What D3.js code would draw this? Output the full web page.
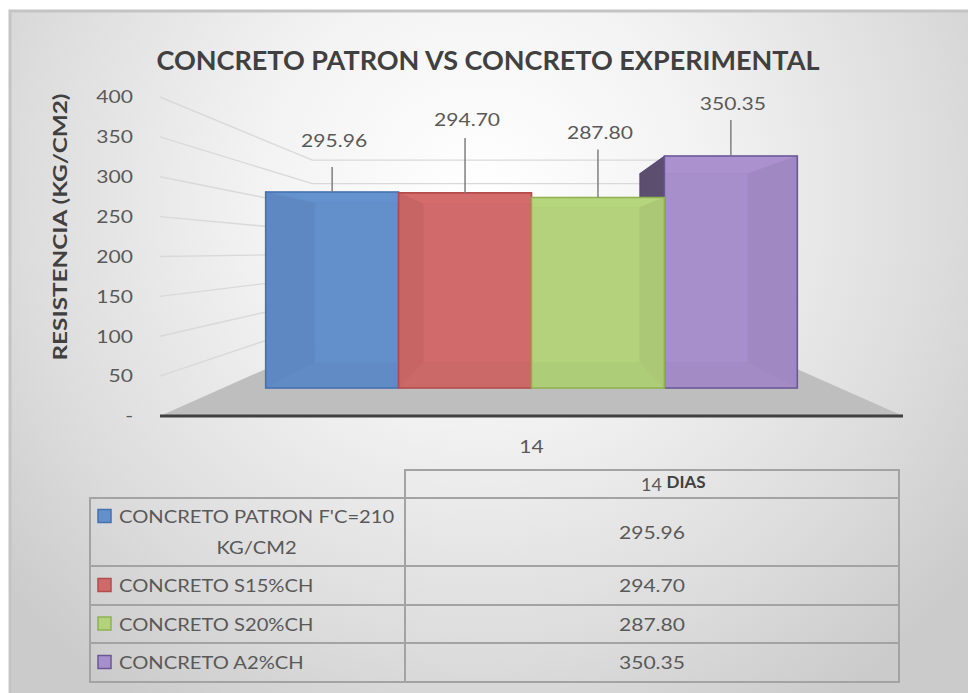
<!DOCTYPE html>
<html>
<head>
<meta charset="utf-8">
<script src="https://cdn.jsdelivr.net/npm/d3@7"></script>
<style>
  body { margin: 0; background: #fff; }
  svg { display: block; font-family: Lato, "Open Sans", sans-serif; }
</style>
</head>
<body>
<svg id="chart" width="968" height="693"></svg>
<script>
// data
const categories = ["14"];
const series = ["CONCRETO PATRON F'C=210 KG/CM2", "CONCRETO S15%CH", "CONCRETO S20%CH", "CONCRETO A2%CH"];
const values = [295.96, 294.70, 287.80, 350.35];
const yTicks = [0, 50, 100, 150, 200, 250, 300, 350, 400];
const headerUnit = "DIAS";

// look
const colors = ["#638fca", "#d06a6a", "#b2d27b", "#a78fcb"];
const edges = ["#4471b0", "#b44c4c", "#8fb152", "#6a5896"];
const labelLift = [52, 73, 65, 53];   // how far each value label sits above its bar
const leaderLen = [25, 55, 48, 36];
const textStretch = 1.17;

const W = 968, H = 693;
const svg = d3.select("#chart");

// perspective: front plane s=1, everything shrinks toward the vanishing point
const vp = {x: 531.5, y: 251};
const depth = {front: 1, barFront: 0.83, barBack: 0.6765, wall: 0.59};
function proj(x, y, s) { return [vp.x + s * (x - vp.x), vp.y + s * (y - vp.y)]; }

const x0 = d3.scaleBand().domain(categories).range([160, 903]).paddingOuter(0.08);
const x1 = d3.scaleBand().domain(series).range([x0(categories[0]), x0(categories[0]) + x0.bandwidth()]);
const y = d3.scaleLinear().domain([0, 400]).range([416, 97]);

function widen(sel, k) {
    sel.each(function() {
        const w = this.getComputedTextLength();
        d3.select(this).attr("textLength", w * k).attr("lengthAdjust", "spacingAndGlyphs");
    });
}

// background
const defs = svg.append("defs");
const grad = defs.append("radialGradient").attr("id", "bg")
    .attr("gradientUnits", "userSpaceOnUse")
    .attr("cx", 480).attr("cy", 190).attr("r", 620);
grad.append("stop").attr("offset", 0).attr("stop-color", "#ffffff");
grad.append("stop").attr("offset", 0.35).attr("stop-color", "#f3f3f3");
grad.append("stop").attr("offset", 0.75).attr("stop-color", "#dcdcdc");
grad.append("stop").attr("offset", 1).attr("stop-color", "#cbcbcb");

svg.append("rect").attr("x", 9).attr("y", 10).attr("width", W - 9).attr("height", H - 10)
    .attr("fill", "url(#bg)");
svg.append("path").attr("d", `M10,${H} V11 H${W}`)
    .attr("fill", "none").attr("stroke", "#c4c4c4").attr("stroke-width", 3);

// title
svg.append("text").attr("class", "title")
    .attr("x", 488).attr("y", 70)
    .attr("text-anchor", "middle")
    .attr("font-size", 27).attr("font-weight", "bold").attr("fill", "#404040")
    .text("CONCRETO PATRON VS CONCRETO EXPERIMENTAL");

// floor
const floorPts = [proj(160, y(0), 1), proj(903, y(0), 1), proj(903, y(0), depth.wall), proj(160, y(0), depth.wall)];
svg.append("polygon").attr("points", floorPts.join(" ")).attr("fill", "#bebebe");

// gridlines on the side and back walls
const line = d3.line();
svg.append("g").selectAll("path")
    .data(yTicks.filter(d => d > 0))
    .join("path")
    .attr("d", d => line([proj(160, y(d), 1), proj(160, y(d), depth.wall), proj(903, y(d), depth.wall)]))
    .attr("fill", "none").attr("stroke", "#d9d9d9").attr("stroke-width", 1.4);

svg.append("line").attr("x1", 160).attr("x2", 903).attr("y1", y(0)).attr("y2", y(0))
    .attr("stroke", "#404040").attr("stroke-width", 3);

// y axis labels
const yAxis = svg.append("g").attr("transform", "translate(160,0)")
    .call(d3.axisLeft(y).tickValues(yTicks).tickSize(0).tickPadding(27)
        .tickFormat(d => d === 0 ? "-" : d));
yAxis.select(".domain").remove();
yAxis.selectAll("text").attr("font-size", 18).attr("fill", "#595959")
    .attr("font-family", "Lato, sans-serif").call(widen, textStretch);

svg.append("text")
    .attr("transform", "translate(67,227) rotate(-90)")
    .attr("text-anchor", "middle")
    .attr("font-size", 19).attr("font-weight", "bold").attr("fill", "#404040")
    .text("RESISTENCIA (KG/CM2)")
    .call(widen, 1.28);

// bars as perspective boxes
const bars = series.map((s, i) => {
    const xa = x1(s), xb = xa + x1.bandwidth();
    const yt = y(values[i]), yb = y(0);
    const F = (xx, yy) => proj(xx, yy, depth.barFront);
    const B = (xx, yy) => proj(xx, yy, depth.barBack);
    return {
        i: i,
        dist: Math.abs((xa + xb) / 2 - vp.x),
        faces: [
            {k: "back", p: [B(xa, yt), B(xb, yt), B(xb, yb), B(xa, yb)]},
            {k: "bottom", p: [F(xa, yb), F(xb, yb), B(xb, yb), B(xa, yb)]},
            {k: "top", p: [F(xa, yt), F(xb, yt), B(xb, yt), B(xa, yt)]},
            {k: "side", p: [F(xa, yt), B(xa, yt), B(xa, yb), F(xa, yb)]},
            {k: "side", p: [F(xb, yt), B(xb, yt), B(xb, yb), F(xb, yb)]},
            {k: "front", p: [F(xa, yt), F(xb, yt), F(xb, yb), F(xa, yb)]}
        ],
        top: F((xa + xb) / 2, yt)
    };
});
bars.sort((a, b) => b.dist - a.dist);

const faceFill = (k, c) => {
    const col = d3.color(c);
    if (k === "side") return col.darker(1.7);
    if (k === "bottom") return col.darker(0.8);
    if (k === "top") return col.brighter(0.5);
    return col;
};

const barG = svg.append("g");
bars.forEach(b => {
    barG.append("g").selectAll("polygon")
        .data(b.faces)
        .join("polygon")
        .attr("points", d => d.p.join(" "))
        .attr("fill", d => faceFill(d.k, colors[b.i]))
        .attr("fill-opacity", d => d.k === "front" ? 0.9 : 1)
        .attr("stroke", d => d3.color(edges[b.i]).darker(d.k === "side" ? 0.8 : 0))
        .attr("stroke-opacity", d => d.k === "front" ? 1 : 0.5)
        .attr("stroke-width", d => d.k === "front" ? 1.6 : 1);
});

// value labels with leader lines
const labels = svg.append("g");
bars.forEach(b => {
    const [cx, ty] = b.top;
    labels.append("line")
        .attr("x1", cx).attr("x2", cx)
        .attr("y1", ty - leaderLen[b.i]).attr("y2", ty)
        .attr("stroke", "#7f7f7f").attr("stroke-width", 1.5);
    labels.append("text")
        .attr("x", cx + 2).attr("y", ty - labelLift[b.i] + 6.5)
        .attr("text-anchor", "middle")
        .attr("font-size", 18).attr("fill", "#595959")
        .text(d3.format(".2f")(values[b.i]))
        .call(widen, textStretch);
});

// category label
svg.append("text")
    .attr("x", x0(categories[0]) + x0.bandwidth() / 2).attr("y", 453)
    .attr("text-anchor", "middle")
    .attr("font-size", 18).attr("fill", "#595959")
    .text(categories[0])
    .call(widen, textStretch);

// data table
const colX = [90, 405, 899];
const rowY = [470, 498, 566, 605, 643, 682];
const tbl = svg.append("g").attr("fill", "none").attr("stroke", "#a3a3a3").attr("stroke-width", 2);
tbl.append("rect").attr("x", colX[1]).attr("y", rowY[0]).attr("width", colX[2] - colX[1]).attr("height", rowY[1] - rowY[0]);
tbl.append("rect").attr("x", colX[0]).attr("y", rowY[1]).attr("width", colX[2] - colX[0]).attr("height", rowY[5] - rowY[1]);
tbl.append("line").attr("x1", colX[1]).attr("x2", colX[1]).attr("y1", rowY[1]).attr("y2", rowY[5]);
rowY.slice(2, 5).forEach(r => tbl.append("line").attr("x1", colX[0]).attr("x2", colX[2]).attr("y1", r).attr("y2", r));

const midCol = (colX[1] + colX[2]) / 2;
const head = svg.append("text")
    .attr("x", midCol - 11).attr("y", 491)
    .attr("fill", "#595959");
head.append("tspan").attr("font-size", 18).text(categories[0] + " ");
head.append("tspan").attr("font-size", 17).attr("font-weight", "bold").attr("fill", "#404040")
    .attr("dy", -3).text(headerUnit);

const rowMid = d3.range(4).map(i => (rowY[i + 1] + rowY[i + 2]) / 2);
const tableText = svg.append("g").attr("font-size", 18).attr("fill", "#595959");
const tableStretch = 1.12;

series.forEach((s, i) => {
    const cy = rowMid[i];
    const words = s.split(" ");
    // first row wraps: Excel centers the wrapped text
    let lines = [s];
    if (i === 0) lines = [words.slice(0, 3).join(" "), words.slice(3).join(" ")];
    const lineGap = 31;
    const firstY = cy - (lines.length - 1) * lineGap / 2;
    tableText.append("rect")
        .attr("x", 98).attr("y", firstY - 7).attr("width", 13).attr("height", 13)
        .attr("fill", colors[i]).attr("stroke", edges[i]).attr("stroke-width", 1.5);
    const t0 = tableText.append("text")
        .attr("x", 119).attr("y", firstY + 6.5)
        .text(lines[0]).call(widen, tableStretch);
    if (lines.length > 1) {
        const w = t0.node().getComputedTextLength();
        tableText.append("text")
            .attr("x", 119 + w / 2).attr("y", firstY + lineGap + 6.5)
            .attr("text-anchor", "middle")
            .text(lines[1]).call(widen, tableStretch);
    }
    tableText.append("text")
        .attr("x", midCol).attr("y", cy + 6.5)
        .attr("text-anchor", "middle")
        .text(d3.format(".2f")(values[i])).call(widen, textStretch);
});
</script>
</body>
</html>
